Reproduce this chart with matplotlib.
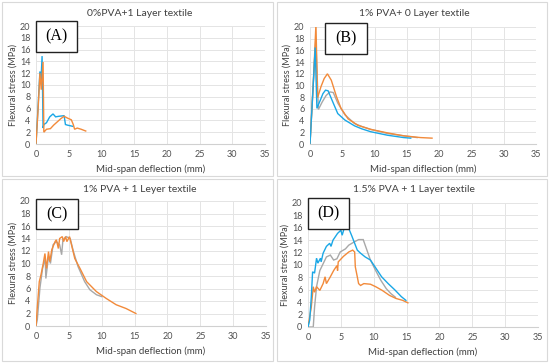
import matplotlib.pyplot as plt
from matplotlib.patches import Rectangle

# ---- data ----
# (A) 0% PVA + 1 layer textile
a_blue_x = [0, 0.3, 0.6, 0.75, 0.93, 1.08, 1.2, 1.6, 2.1, 2.6, 3.0, 3.5, 4.3, 4.5, 4.8, 5.6]
a_blue_y = [0, 6.0, 12.3, 10.3, 14.9, 2.7, 3.3, 3.6, 4.6, 5.1, 4.6, 4.7, 4.8, 3.3, 3.2, 3.0]
a_orng_x = [0, 0.3, 0.6, 0.8, 1.08, 1.2, 1.6, 2.2, 2.7, 3.2, 3.8, 4.3, 4.8, 5.4, 5.7, 5.9, 6.3, 6.9, 7.6]
a_orng_y = [0, 5.5, 12.0, 9.2, 13.9, 2.0, 2.5, 2.6, 3.2, 3.7, 4.3, 4.7, 4.4, 4.1, 3.3, 2.5, 2.7, 2.5, 2.2]

# (B) 1% PVA + 0 layer textile
b_blue_x = [0, 0.4, 0.8, 1.07, 1.6, 2.0, 2.4, 2.8, 3.6, 4.3, 5.4, 6.9, 8.0, 9.4, 12.0, 14.5, 15.6]
b_blue_y = [0, 8.0, 16.5, 6.1, 7.5, 8.6, 9.2, 9.1, 7.0, 5.2, 4.1, 3.1, 2.6, 2.1, 1.5, 1.1, 1.0]
b_gray_x = [0, 0.4, 0.9, 1.3, 1.9, 2.5, 3.1, 3.6, 4.3, 5.4, 6.9, 8.0, 9.4, 12.0, 14.5, 16.6]
b_gray_y = [0, 8.5, 18.0, 5.9, 7.2, 8.3, 8.9, 8.8, 7.0, 5.0, 3.5, 3.0, 2.5, 1.8, 1.4, 1.1]
b_orng_x = [0, 0.5, 0.92, 1.17, 1.7, 2.2, 2.7, 3.3, 4.1, 4.8, 5.9, 7.4, 9.4, 12.0, 14.5, 17.1, 18.9]
b_orng_y = [0, 10.0, 20.5, 7.9, 9.8, 11.2, 12.0, 10.9, 8.1, 6.1, 4.3, 3.2, 2.5, 1.9, 1.4, 1.1, 1.0]

# (C) 1% PVA + 1 layer textile
c_gray_x = [0, 0.2, 0.6, 1.0, 1.4, 1.5, 1.9, 2.2, 2.6, 3.1, 3.6, 3.9, 4.1, 4.6, 5.2, 5.7, 6.4, 7.4, 8.2, 9.2, 10.0]
c_gray_y = [0, 1.0, 6.1, 9.2, 10.8, 7.6, 11.1, 10.0, 13.0, 13.5, 13.0, 11.4, 13.8, 14.3, 14.0, 11.9, 9.5, 7.1, 5.8, 5.0, 4.7]
c_orng_x = [0, 0.2, 0.5, 0.76, 1.1, 1.36, 1.6, 1.9, 2.1, 2.4, 2.9, 3.1, 3.4, 3.6, 4.0, 4.2, 4.5, 4.7, 5.1,
            5.4, 5.9, 6.7, 7.7, 9.2, 10.7, 12.2, 13.7, 15.2]
c_orng_y = [0, 3.0, 7.1, 8.2, 10.0, 11.6, 9.2, 11.9, 10.3, 12.2, 13.5, 13.8, 12.4, 14.0, 14.3, 13.5, 14.3, 13.5, 14.3,
            13.0, 10.8, 9.2, 7.1, 5.5, 4.4, 3.4, 2.8, 2.0]

# (D) 1.5% PVA + 1 layer textile
d_blue_x = [0, 0.26, 0.5, 0.7, 1.0, 1.3, 1.5, 1.9, 2.0, 2.3, 2.8, 3.3, 3.5, 3.8, 4.5, 5.0, 5.2, 5.5, 6.0, 6.2,
            6.7, 7.5, 8.0, 8.7, 9.5, 10.2, 11.2, 12.2, 13.2, 14.2, 14.9]
d_blue_y = [0, 1.1, 4.8, 8.9, 8.7, 11.1, 10.3, 11.1, 10.5, 11.9, 13.0, 13.5, 13.0, 14.0, 15.1, 15.6, 14.8, 15.9, 16.2, 15.9,
            14.6, 12.4, 11.9, 11.3, 10.8, 9.7, 8.1, 7.0, 6.0, 4.9, 4.3]
d_gray_x = [0, 0.8, 1.0, 1.3, 1.8, 2.3, 2.8, 3.4, 3.9, 4.4, 4.9, 5.7, 6.2, 7.0, 7.7, 8.4, 8.8, 9.5, 10.3, 11.1,
            11.9, 12.6, 13.3]
d_gray_y = [0, 0, 3.2, 6.5, 9.1, 10.2, 11.3, 11.6, 10.8, 11.0, 12.1, 12.6, 13.2, 13.7, 14.1, 14.1, 12.9, 10.8, 9.1, 7.5,
            6.2, 5.4, 4.8]
d_orng_x = [0, 0.5, 0.8, 1.0, 1.3, 1.8, 2.3, 2.6, 2.8, 3.4, 3.9, 4.4, 4.5, 4.6, 5.4, 6.2, 6.8, 7.1, 7.2, 7.5,
            7.7, 8.0, 8.5, 9.5, 10.3, 11.3, 12.4, 13.4, 14.4, 15.2]
d_orng_y = [0, 3.2, 6.5, 5.6, 6.5, 5.9, 7.0, 8.1, 7.0, 8.1, 9.1, 9.9, 9.1, 10.5, 11.4, 12.1, 12.4, 12.1, 9.7, 8.1,
            7.0, 6.7, 7.0, 6.9, 6.5, 5.9, 5.1, 4.6, 4.3, 3.9]

BLUE = "#1AA7E6"
ORNG = "#F28A3A"
GRAY = "#A8A8A8"

W, H = 550, 363


def fx(px):
    return px / W


def fy(py):
    return 1 - py / H


# panel: (border box, axes box, title, xlabel, letter box, series)
panels = [
    dict(border=(2, 2, 273, 176), ax=(36, 26, 265, 144), title="0%PVA+1 Layer textile",
         xlabel="Mid-span deflection (mm)", tag="(A)", tagbox=(36, 21, 77, 52),
         series=[(a_blue_x, a_blue_y, BLUE), (a_orng_x, a_orng_y, ORNG)]),
    dict(border=(277, 2, 547, 176), ax=(310, 27, 536, 144), title="1% PVA+ 0 Layer textile",
         xlabel="Mid-span diflection (mm)", tag="(B)", tagbox=(325, 23, 367, 54),
         series=[(b_gray_x, b_gray_y, GRAY), (b_orng_x, b_orng_y, ORNG), (b_blue_x, b_blue_y, BLUE)]),
    dict(border=(2, 179, 273, 361), ax=(36, 201, 266, 326), title="1% PVA + 1 Leyer textile",
         xlabel="Mid-span deflection (mm)", tag="(C)", tagbox=(36, 199, 78, 229),
         series=[(c_gray_x, c_gray_y, GRAY), (c_orng_x, c_orng_y, ORNG)]),
    dict(border=(277, 179, 547, 361), ax=(308, 203, 538, 327), title="1.5% PVA + 1 Layer textile",
         xlabel="Mid-span deflection (mm)", tag="(D)", tagbox=(308, 198, 349, 229),
         series=[(d_gray_x, d_gray_y, GRAY), (d_orng_x, d_orng_y, ORNG), (d_blue_x, d_blue_y, BLUE)]),
]

plt.rcParams["font.family"] = ["Lato", "DejaVu Sans"]

fig = plt.figure(figsize=(W / 100, H / 100), dpi=100)
fig.patch.set_facecolor("white")

for p in panels:
    bx0, by0, bx1, by1 = p["border"]
    fig.add_artist(Rectangle((fx(bx0), fy(by1)), fx(bx1 - bx0), (by1 - by0) / H,
                             transform=fig.transFigure, fill=False, edgecolor="#D9D9D9", lw=0.8))

    x0, y0, x1, y1 = p["ax"]
    ax = fig.add_axes([fx(x0), fy(y1), fx(x1 - x0), (y1 - y0) / H])
    for x, y, c in p["series"]:
        ax.plot(x, y, color=c, lw=1.0, solid_joinstyle="miter")
    ax.set_xlim(0, 35)
    ax.set_ylim(0, 20)
    ax.set_xticks(range(0, 36, 5))
    ax.set_yticks(range(0, 21, 2))
    ax.grid(True, color="#E4E4E4", lw=0.7)
    ax.set_axisbelow(True)
    for s in ["top", "right", "left"]:
        ax.spines[s].set_visible(False)
    ax.spines["bottom"].set_color("#D0D0D0")
    ax.spines["bottom"].set_linewidth(0.8)
    ax.tick_params(length=0, labelsize=6.5, colors="#505050", pad=4)
    ax.set_xlabel(p["xlabel"], fontsize=7, color="#404040", labelpad=4)
    ax.set_ylabel("Flexural stress (MPa)", fontsize=6.5, color="#404040", labelpad=2)
    fig.text(fx((bx0 + bx1) / 2 + 2), fy(by0 + 11), p["title"], fontsize=7.5, color="#404040",
             ha="center", va="center")

    tx0, ty0, tx1, ty1 = p["tagbox"]
    fig.add_artist(Rectangle((fx(tx0), fy(ty1)), fx(tx1 - tx0), (ty1 - ty0) / H,
                             transform=fig.transFigure, facecolor="white", edgecolor="#222222", lw=1.0))
    fig.text(fx((tx0 + tx1) / 2), fy((ty0 + ty1) / 2), p["tag"], fontsize=11.5,
             family="Liberation Serif", ha="center", va="center", color="black")

fig.savefig("out.png", dpi=100)
